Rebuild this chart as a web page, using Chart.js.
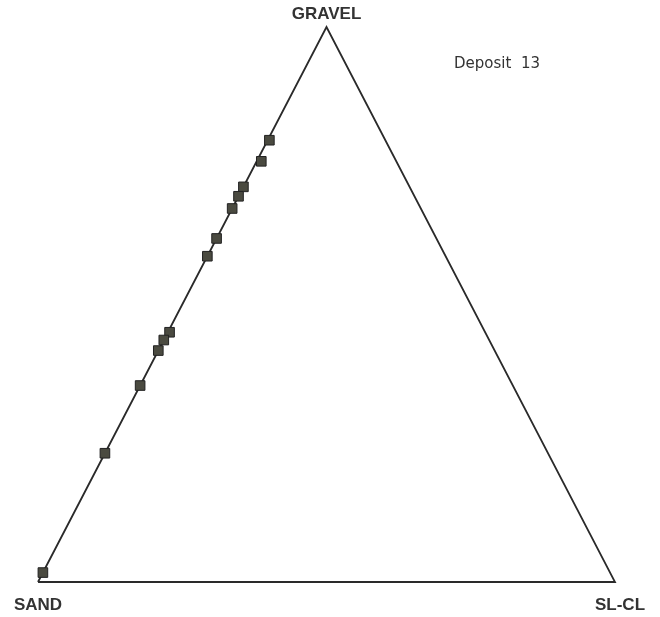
<!DOCTYPE html>
<html>
<head>
<meta charset="utf-8">
<script src="https://cdn.jsdelivr.net/npm/chart.js@4/dist/chart.umd.min.js"></script>
<style>
  html, body { margin: 0; padding: 0; background: #fff; }
  #wrap { width: 660px; height: 617px; }
</style>
</head>
<body>
<div id="wrap"><canvas id="ternary"></canvas></div>
<script>
// composition of each sample, percent
const gravel = [79.6, 75.8, 71.2, 69.5, 67.3, 61.9, 58.7, 45.0, 43.6, 41.7, 35.4, 23.2, 1.7];
const slcl   = [0.3, 0.8, 0, 0, 0, 0, 0, 0.3, 0, 0, 0, 0, 0];
const sand   = gravel.map((g, i) => 100 - g - slcl[i]);

const cornerNames = ['SAND', 'SL-CL', 'GRAVEL'];
const title = 'Deposit  13';

// ternary -> cartesian (sand corner at origin, sl-cl at x=1, gravel at top)
function toXY(s, c, g) {
  const t = s + c + g;
  return { x: (c + g / 2) / t, y: g / t };
}

const samples = gravel.map((g, i) => toXY(sand[i], slcl[i], g));
const corners = [toXY(100, 0, 0), toXY(0, 100, 0), toXY(0, 0, 100)];
const frame = [corners[0], corners[1], corners[2], corners[0]];

const labelsPlugin = {
  id: 'cornerLabels',
  afterDraw(chart) {
    const ctx = chart.ctx;
    const xs = chart.scales.x, ys = chart.scales.y;
    ctx.save();
    ctx.fillStyle = '#333';
    ctx.textAlign = 'center';
    ctx.textBaseline = 'middle';
    ctx.font = 'bold 17px "Liberation Sans", Arial, sans-serif';
    const off = [[0, 23], [5, 23], [0, -13]];
    corners.forEach((p, i) => {
      ctx.fillText(cornerNames[i], xs.getPixelForValue(p.x) + off[i][0], ys.getPixelForValue(p.y) + off[i][1]);
    });
    ctx.font = '15px "DejaVu Sans", sans-serif';
    ctx.fillText(title, 497, 64);
    ctx.restore();
  }
};

new Chart('ternary', {
  type: 'scatter',
  data: {
    datasets: [{
      data: frame,
      showLine: true,
      borderColor: '#2a2a2a',
      borderWidth: 1.8,
      pointRadius: 0,
      clip: false,
      order: 2
    }, {
      data: samples,
      pointStyle: 'rect',
      pointRadius: 6.8,
      backgroundColor: '#4a4a40',
      borderColor: '#222',
      borderWidth: 1,
      clip: false,
      order: 1
    }]
  },
  options: {
    responsive: true,
    maintainAspectRatio: false,
    animation: false,
    layout: { padding: { left: 38, right: 45, top: 27, bottom: 35 } },
    scales: {
      x: { type: 'linear', min: 0, max: 1, display: false },
      y: { type: 'linear', min: 0, max: 1, display: false }
    },
    plugins: {
      legend: { display: false },
      tooltip: { enabled: false }
    }
  },
  plugins: [labelsPlugin]
});
</script>
</body>
</html>
